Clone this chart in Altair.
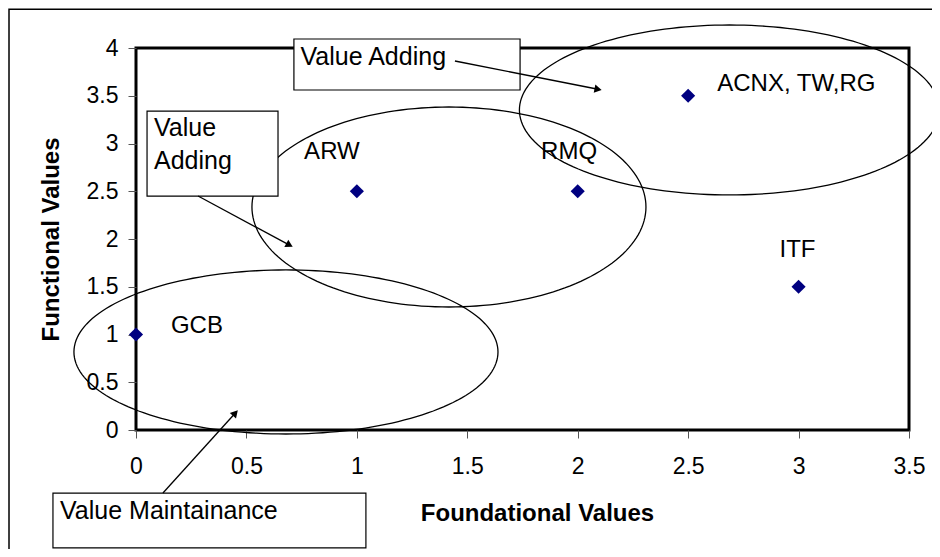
import altair as alt
import numpy as np
import pandas as pd

# ---- data ----
foundational = [0, 1, 2, 2.5, 3]
functional = [1, 2.5, 2.5, 3.5, 1.5]
names = ["GCB", "ARW", "RMQ", "ACNX, TW,RG", "ITF"]
name_x = [0.276, 0.887, 1.961, 2.990, 2.995]
name_y = [1.09, 2.906, 2.906, 3.623, 1.885]

x_ticks = [0, 0.5, 1, 1.5, 2, 2.5, 3, 3.5]
y_ticks = [0, 0.5, 1, 1.5, 2, 2.5, 3, 3.5, 4]

# annotation ellipses (data units)
ell_cx = [2.687, 1.417, 0.679]
ell_cy = [3.351, 2.335, 0.817]
ell_rx = [0.951, 0.892, 0.960]
ell_ry = [0.890, 1.047, 0.859]

# annotation boxes (data units)
box_x1 = [0.715, 0.050, -0.376]
box_x2 = [1.739, 0.643, 1.041]
box_y1 = [4.094, 3.340, -0.660]
box_y2 = [3.560, 2.450, -1.235]
box_texts = ["Value Adding", "Value", "Adding", "Value Maintainance"]
box_text_x = [0.745, 0.0815, 0.0815, -0.344]
box_text_y = [3.906, 3.162, 2.817, -0.848]

# arrows (data units)
arrow_x1 = [1.444, 0.281, 0.122]
arrow_y1 = [3.864, 2.450, -0.660]
arrow_x2 = [2.110, 0.711, 0.462]
arrow_y2 = [3.560, 1.916, 0.209]

# outer frame (data units)
frame_x = [-0.575, 3.80]
frame_y = [4.405, -1.80]

W, H = 773, 382
sx, sy = W / 3.5, H / 4.0

FONT = "Liberation Sans"

xs = alt.Scale(domain=[0, 3.5], nice=False, zero=False)
ys = alt.Scale(domain=[0, 4], nice=False, zero=False)

xaxis = alt.Axis(values=x_ticks, format=".1~f", grid=False, domain=False,
                 tickSize=8, tickColor="#555555", labelFontSize=23,
                 labelColor="black", labelPadding=17, labelFont=FONT,
                 labelFlush=False, labelOverlap=False,
                 title="Foundational Values", titleFontSize=24,
                 titleFontWeight="bold", titleFont=FONT, titleColor="black",
                 titleX=401, titleY=83, titleBaseline="middle",
                 titleAlign="center")
yaxis = alt.Axis(values=y_ticks, format=".1~f", grid=False, domain=False,
                 tickSize=8, tickColor="#555555", labelFontSize=23,
                 labelColor="black", labelPadding=10, labelFont=FONT,
                 labelFlush=False, labelOverlap=False,
                 title="Functional Values", titleFontSize=24,
                 titleFontWeight="bold", titleFont=FONT, titleColor="black",
                 titleX=-85, titleY=H / 2, titleAngle=270,
                 titleBaseline="middle", titleAlign="center")


def X(f, **kw):
    return alt.X(f, type="quantitative", scale=xs, axis=xaxis, **kw)


def Y(f, **kw):
    return alt.Y(f, type="quantitative", scale=ys, axis=yaxis, **kw)


# frame
frame_df = pd.DataFrame({"x1": [frame_x[0]], "x2": [frame_x[1]],
                         "y1": [frame_y[0]], "y2": [frame_y[1]]})
frame = alt.Chart(frame_df).mark_rect(fill=None, stroke="black",
                                      strokeWidth=1.5).encode(
    x=X("x1"), x2="x2", y=Y("y1"), y2="y2")

# ellipses
t = np.linspace(0, 2 * np.pi, 181)
rows = []
for k in range(len(ell_cx)):
    for i, a in enumerate(t):
        rows.append({"id": k, "i": i,
                     "ex": ell_cx[k] + ell_rx[k] * np.cos(a),
                     "ey": ell_cy[k] + ell_ry[k] * np.sin(a)})
ell_df = pd.DataFrame(rows)
ellipses = alt.Chart(ell_df).mark_line(color="black", strokeWidth=1.3).encode(
    x=X("ex"), y=Y("ey"), detail="id:N", order="i:Q")

# points
pts_df = pd.DataFrame({"f": foundational, "g": functional})
points = alt.Chart(pts_df).mark_point(shape="diamond", filled=True,
                                      color="#000080", size=200,
                                      opacity=1).encode(x=X("f"), y=Y("g"))

lab_df = pd.DataFrame({"lx": name_x, "ly": name_y, "name": names})
labels = alt.Chart(lab_df).mark_text(fontSize=24, font=FONT, color="black",
                                     align="center", baseline="middle").encode(
    x=X("lx"), y=Y("ly"), text="name:N")

# boxes
box_df = pd.DataFrame({"x1": box_x1, "x2": box_x2, "y1": box_y1, "y2": box_y2})
boxes = alt.Chart(box_df).mark_rect(fill="white", stroke="black",
                                    strokeWidth=1.2).encode(
    x=X("x1"), x2="x2", y=Y("y1"), y2="y2")

bt_df = pd.DataFrame({"tx": box_text_x, "ty": box_text_y, "t": box_texts})
box_text = alt.Chart(bt_df).mark_text(fontSize=25, font=FONT, color="black",
                                      align="left", baseline="middle").encode(
    x=X("tx"), y=Y("ty"), text="t:N")

# arrows
arr_df = pd.DataFrame({"x1": arrow_x1, "y1": arrow_y1,
                       "x2": arrow_x2, "y2": arrow_y2})
dxp = (arr_df["x2"] - arr_df["x1"]) * sx
dyp = -(arr_df["y2"] - arr_df["y1"]) * sy
lng = np.sqrt(dxp ** 2 + dyp ** 2)
ux, uy = dxp / lng, dyp / lng
arr_df["ang"] = np.degrees(np.arctan2(dxp, -dyp)) % 360
arr_df["hx"] = arr_df["x2"] - 4 * ux / sx
arr_df["hy"] = arr_df["y2"] + 4 * uy / sy

arrow_lines = alt.Chart(arr_df).mark_rule(color="black", strokeWidth=1.3).encode(
    x=X("x1"), y=Y("y1"), x2="hx", y2="hy")
arrow_heads = alt.Chart(arr_df).mark_point(shape="triangle-up", filled=True,
                                           color="black", size=70,
                                           opacity=1).encode(
    x=X("hx"), y=Y("hy"), angle=alt.Angle("ang:Q", scale=None))

chart = alt.layer(
    frame, ellipses, points, labels, boxes, box_text, arrow_lines, arrow_heads
).properties(
    width=W, height=H,
    autosize=alt.AutoSizeParams(type="none"),
    padding={"left": 128, "top": 40, "right": 23, "bottom": 119},
    background="white",
).configure(
    font=FONT
).configure_view(
    stroke="black", strokeWidth=3
)

chart.save("out.html", embed_options={"renderer": "svg", "actions": False})
